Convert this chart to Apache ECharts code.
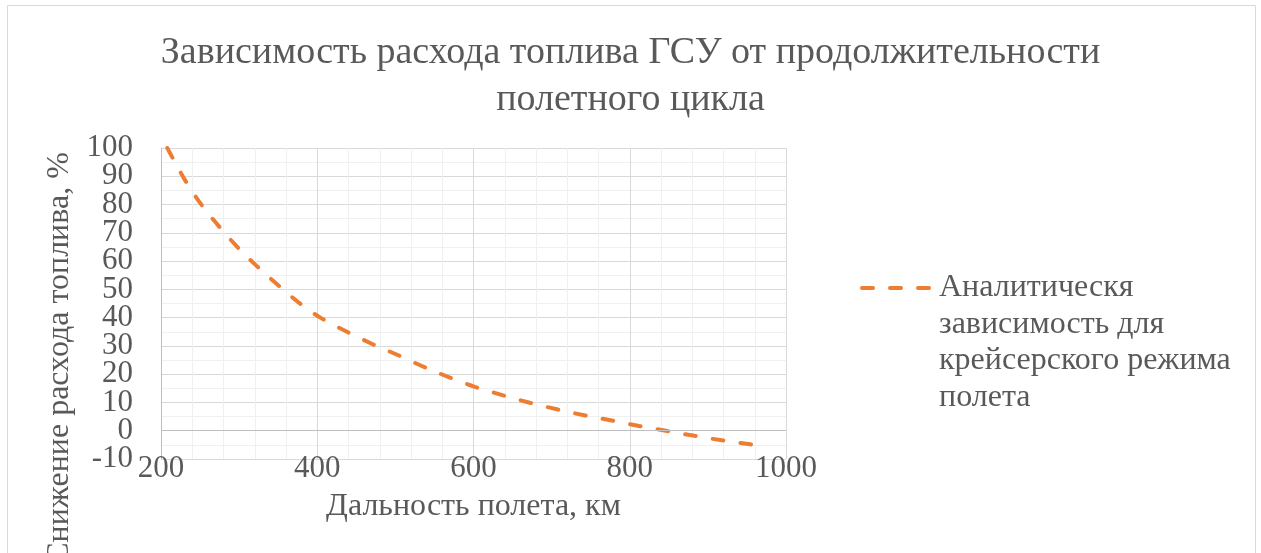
<!DOCTYPE html>
<html>
<head>
<meta charset="utf-8">
<script src="https://cdn.jsdelivr.net/npm/echarts@6/dist/echarts.min.js"></script>
<style>
  html, body { margin: 0; padding: 0; background: #ffffff; }
  #chart { width: 1261px; height: 553px; }
</style>
</head>
<body>
<div id="chart"></div>
<script>
// Flight range, km
const distanceKm = [208, 230, 250, 272, 297, 322, 349, 376, 404, 438, 471, 503, 538,
  569, 601, 638, 672, 708, 743, 777, 812, 848, 883, 918, 954, 963];
// Fuel consumption reduction, %
const fuelReduction = [100, 89, 80.6, 73, 65.2, 58.4, 51.7, 45.4, 40, 35, 30.6, 26.8, 22.4,
  18.9, 15.6, 12.5, 9.9, 7.5, 5.4, 3.6, 1.7, -0.1, -1.8, -3.4, -4.8, -5.2];

const xTicks = { min: 200, max: 1000, step: 200 };
const yTicks = { min: -10, max: 100, step: 10 };

const chartTitle = 'Зависимость расхода топлива ГСУ от продолжительности\nполетного цикла';
const xAxisTitle = 'Дальность полета, км';
const yAxisTitle = 'Снижение расхода топлива, %';
const seriesName = 'Аналитическя\nзависимость для\nкрейсерского режима\nполета';

const FONT = '"Liberation Serif", "DejaVu Serif", serif';
const TEXT = '#595959';
const LINE = '#ED7D31';
const DASH = { color: LINE, width: 4, type: [11, 17], cap: 'round' };

const points = distanceKm.map((x, i) => [x, fuelReduction[i]]);

const chart = echarts.init(document.getElementById('chart'), null, { renderer: 'canvas' });

// The legend label is centred on its key; three blank lines above the
// four-line label keep the key level with the first line.
const LEGEND_LINE = 36.5;
const LEGEND_KEY_Y = 288;

const yLabelStyle = { fontFamily: FONT, fontSize: 31, color: TEXT, margin: 28 };

chart.setOption({
  animation: false,
  backgroundColor: '#ffffff',
  title: {
    text: chartTitle,
    left: 'center',
    top: 25,
    textStyle: { fontFamily: FONT, fontSize: 38, fontWeight: 'normal', color: TEXT, lineHeight: 47 }
  },
  legend: {
    left: 860,
    top: LEGEND_KEY_Y - LEGEND_LINE * 3.5,
    padding: 0,
    itemWidth: 72,
    itemHeight: 14,
    data: [seriesName],
    formatter: name => '\n\n\n' + name,
    itemStyle: { opacity: 0 },
    lineStyle: DASH,
    textStyle: { fontFamily: FONT, fontSize: 32, color: TEXT, lineHeight: LEGEND_LINE }
  },
  grid: { left: 161, right: 475, top: 148, bottom: 94, containLabel: false },
  xAxis: {
    type: 'value',
    min: xTicks.min, max: xTicks.max, interval: xTicks.step,
    name: xAxisTitle,
    nameLocation: 'middle',
    nameGap: 32,
    nameTextStyle: { fontFamily: FONT, fontSize: 32, color: TEXT },
    axisLine: { show: false },
    axisTick: { show: false },
    axisLabel: {
      fontFamily: FONT, fontSize: 31, color: TEXT, margin: -6,
      showMinLabel: true, showMaxLabel: true,
      formatter: v => String(v)
    },
    splitLine: { show: true, lineStyle: { color: '#d9d9d9', width: 1 } },
    minorTick: { show: false, splitNumber: 5 },
    minorSplitLine: { show: true, lineStyle: { color: '#f0f0f0', width: 1 } }
  },
  yAxis: [
    {
      // main value axis: grid, axis line and the inner tick labels
      type: 'value',
      min: yTicks.min, max: yTicks.max, interval: yTicks.step,
      axisLine: { show: true, onZero: false, lineStyle: { color: '#bfbfbf', width: 1 } },
      axisTick: { show: false },
      axisLabel: Object.assign({ showMinLabel: false, showMaxLabel: false }, yLabelStyle),
      splitLine: { show: true, lineStyle: { color: '#d9d9d9', width: 1 } },
      minorTick: { show: false, splitNumber: 2 },
      minorSplitLine: { show: true, lineStyle: { color: '#f0f0f0', width: 1 } }
    },
    {
      // same scale, carrying only the end labels (-10 and 100)
      type: 'value',
      position: 'left',
      min: yTicks.min, max: yTicks.max, interval: yTicks.max - yTicks.min,
      axisLine: { show: false },
      axisTick: { show: false },
      axisLabel: Object.assign({ showMinLabel: true, showMaxLabel: true }, yLabelStyle),
      splitLine: { show: false }
    }
  ],
  graphic: [
    {
      type: 'rect',
      silent: true,
      shape: { x: 7.5, y: 5.5, width: 1248, height: 600 },
      style: { fill: 'none', stroke: '#d9d9d9', lineWidth: 1 }
    },
    {
      type: 'text',
      silent: true,
      x: 60, y: 358,
      rotation: Math.PI / 2,
      style: {
        text: yAxisTitle,
        font: '32px ' + FONT,
        fill: TEXT,
        align: 'center',
        verticalAlign: 'middle'
      }
    }
  ],
  series: [
    {
      name: seriesName,
      type: 'line',
      data: points,
      smooth: 0.3,
      showSymbol: false,
      symbol: 'none',
      lineStyle: DASH,
      itemStyle: { color: LINE },
      markLine: {
        silent: true,
        symbol: 'none',
        label: { show: false },
        lineStyle: { color: '#bfbfbf', width: 1, type: 'solid' },
        data: [{ yAxis: 0 }]
      },
      z: 3
    }
  ]
});
</script>
</body>
</html>
